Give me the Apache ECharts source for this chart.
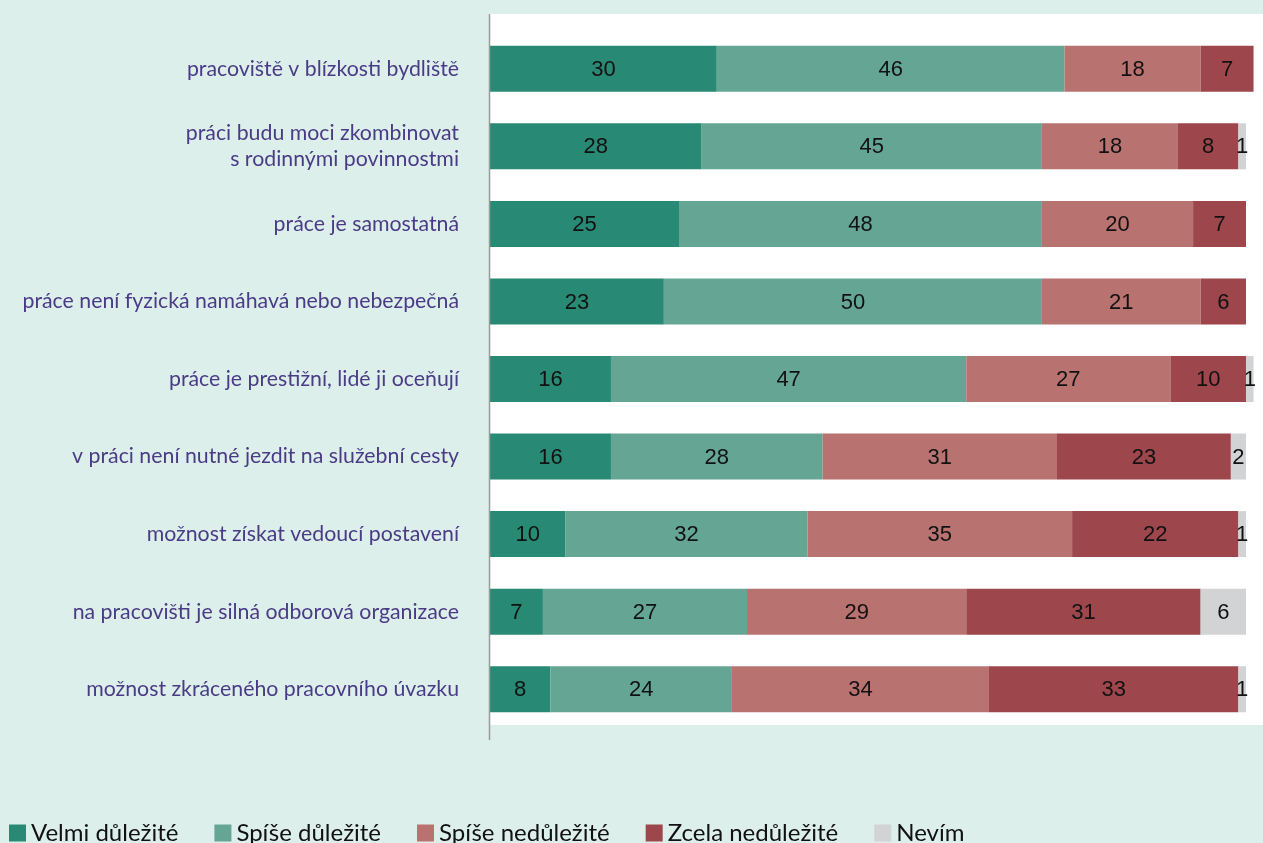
<!DOCTYPE html>
<html>
<head>
<meta charset="utf-8">
<script src="https://cdn.jsdelivr.net/npm/echarts@6/dist/echarts.min.js"></script>
<style>
  html, body { margin: 0; padding: 0; background: #ddefea; }
  #chart { width: 1263px; height: 843px; }
</style>
</head>
<body>
<div id="chart"></div>
<script>
// Categories (top to bottom)
const categories = [
  'pracoviště v blízkosti bydliště',
  'práci budu moci zkombinovat\ns rodinnými povinnostmi',
  'práce je samostatná',
  'práce není fyzická namáhavá nebo nebezpečná',
  'práce je prestižní, lidé ji oceňují',
  'v práci není nutné jezdit na služební cesty',
  'možnost získat vedoucí postavení',
  'na pracovišti je silná odborová organizace',
  'možnost zkráceného pracovního úvazku'
];

// Shares in percent per answer
const velmiDulezite   = [30, 28, 25, 23, 16, 16, 10, 7, 8];
const spiseDulezite   = [46, 45, 48, 50, 47, 28, 32, 27, 24];
const spiseNedulezite = [18, 18, 20, 21, 27, 31, 35, 29, 34];
const zcelaNedulezite = [7, 8, 7, 6, 10, 23, 22, 31, 33];
const nevim           = [null, 1, null, null, 1, 2, 1, 6, 1];

const seriesNames = ['Velmi důležité', 'Spíše důležité', 'Spíše nedůležité', 'Zcela nedůležité', 'Nevím'];
const seriesData = [velmiDulezite, spiseDulezite, spiseNedulezite, zcelaNedulezite, nevim];
const colors = ['#288a74', '#65a594', '#b87270', '#9d474d', '#d2d3d5'];

const chart = echarts.init(document.getElementById('chart'), null, { renderer: 'canvas' });

const option = {
  backgroundColor: '#ddefea',
  animation: false,
  color: colors,
  graphic: [
    {
      type: 'rect', silent: true, z: -10,
      shape: { x: 490, y: 14, width: 773, height: 711 },
      style: { fill: '#ffffff' }
    },
    {
      type: 'line', silent: true, z: 10,
      shape: { x1: 489.5, y1: 14, x2: 489.5, y2: 740 },
      style: { stroke: '#9a9a9a', lineWidth: 1.5 }
    }
  ],
  legend: {
    left: 9,
    top: 821,
    padding: 0,
    itemWidth: 17,
    itemHeight: 17,
    itemGap: 36,
    icon: 'rect',
    textStyle: { fontFamily: 'Lato', fontSize: 24, color: '#111111', padding: [0, 0, 0, 0] },
    data: seriesNames
  },
  grid: { left: 490, right: 0, top: 30, height: 698, containLabel: false },
  xAxis: {
    type: 'value', min: 0, max: 102.25,
    show: false
  },
  yAxis: {
    type: 'category',
    inverse: true,
    data: categories,
    axisLine: { show: false },
    axisTick: { show: false },
    splitLine: { show: false },
    axisLabel: {
      margin: 31,
      fontFamily: 'Lato',
      fontSize: 21.3,
      lineHeight: 26,
      color: '#4a3b86',
      align: 'right'
    }
  },
  series: seriesData.map((d, i) => ({
    name: seriesNames[i],
    type: 'bar',
    stack: 'total',
    barWidth: 46,
    data: d,
    itemStyle: { color: colors[i] },
    label: {
      show: true,
      position: 'inside',
      fontFamily: 'Liberation Sans',
      fontSize: 22,
      color: '#111111',
      offset: [0, 1],
      formatter: p => (p.value == null ? '' : String(p.value))
    },
    emphasis: { disabled: true }
  }))
};

chart.setOption(option);
</script>
</body>
</html>
